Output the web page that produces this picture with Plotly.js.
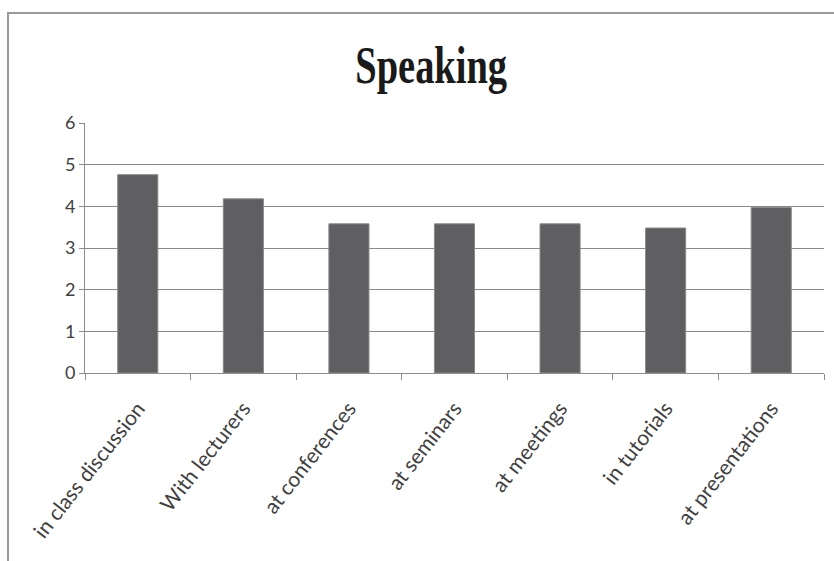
<!DOCTYPE html>
<html>
<head>
<meta charset="utf-8">
<script src="https://cdn.plot.ly/plotly-3.0.1.min.js"></script>
<style>html,body{margin:0;padding:0;background:#fff;}#chart{width:834px;height:561px;}</style>
</head>
<body>
<div id="chart"></div>
<script>
const categories = ["in class discussion", "With lecturers", "at conferences", "at seminars", "at meetings", "in tutorials", "at presentations"];
const values = [4.76, 4.18, 3.58, 3.58, 3.58, 3.48, 3.97];
const yTicks = [0, 1, 2, 3, 4, 5, 6];
const chartTitle = "Speaking";

const trace = {
  type: "bar",
  x: categories,
  y: values,
  marker: { color: "#5f5f61", line: { color: "#8a8a8c", width: 1 } },
  width: 0.38,
  hoverinfo: "x+y"
};

const layout = {
  width: 834,
  height: 561,
  margin: { l: 85, r: 10, t: 123, b: 188 },
  paper_bgcolor: "#ffffff",
  plot_bgcolor: "#ffffff",
  showlegend: false,
  title: {
    text: "<b>" + chartTitle + "</b>",
    font: { family: "Liberation Serif, Times New Roman, serif", size: 52, color: "#1a1a1a" },
    x: 0.517, xanchor: "center",
    y: 0.885, yanchor: "middle"
  },
  xaxis: {
    type: "category",
    tickangle: -52,
    tickson: "boundaries",
    ticks: "outside",
    ticklen: 6,
    tickcolor: "#8c8c8c",
    ticklabelstandoff: 14,
    showline: true,
    linecolor: "#8c8c8c",
    linewidth: 1,
    showgrid: false,
    tickfont: { family: "Lato, Open Sans, sans-serif", size: 21, color: "#404040" }
  },
  yaxis: {
    range: [0, 6],
    tickvals: yTicks,
    ticktext: yTicks.map(String),
    ticks: "outside",
    ticklen: 5,
    tickcolor: "#8c8c8c",
    showline: true,
    linecolor: "#8c8c8c",
    linewidth: 1,
    showgrid: true,
    gridcolor: "#8a8a8a",
    gridwidth: 1,
    zeroline: false,
    tickfont: { family: "Lato, Open Sans, sans-serif", size: 18, color: "#404040" }
  },
  shapes: [
    {
      type: "path",
      xref: "paper", yref: "paper",
      path: "M -0.1042 -0.76 L -0.1042 1.44 L 1.02 1.44",
      line: { color: "#9a9a9a", width: 2 }
    }
  ]
};

Plotly.newPlot("chart", [trace], layout, { displayModeBar: false, staticPlot: true }).then(function (gd) {
  // condense the title horizontally (the reference uses a condensed serif face)
  const t = gd.querySelector(".gtitle");
  if (t) {
    const bb = t.getBBox();
    const cx = bb.x + bb.width / 2;
    t.setAttribute("transform", "translate(" + cx + ",0) scale(0.74,1) translate(" + (-cx) + ",0)");
  }
});
</script>
</body>
</html>
